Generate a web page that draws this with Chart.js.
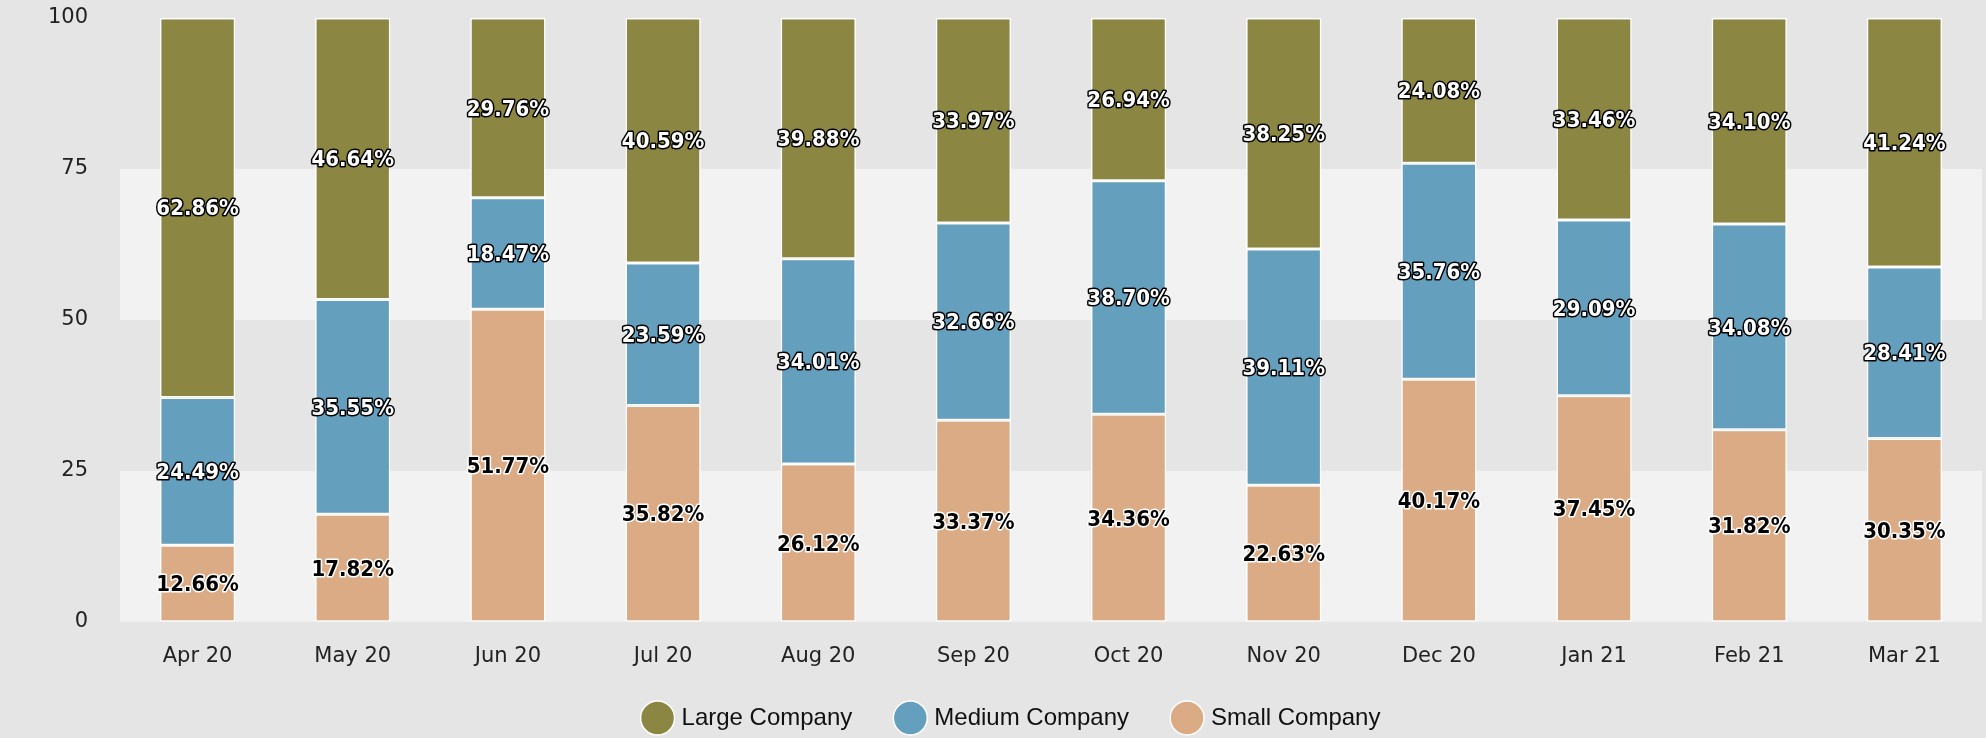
<!DOCTYPE html>
<html>
<head>
<meta charset="utf-8">
<script src="https://cdn.jsdelivr.net/npm/chart.js@4/dist/chart.umd.min.js"></script>
<style>
  html, body { margin: 0; padding: 0; background: #e5e5e5; }
  #wrap { width: 1986px; height: 738px; }
</style>
</head>
<body>
<div id="wrap"><canvas id="grafica" width="1986" height="738"></canvas></div>
<script>
const months = ["Apr 20", "May 20", "Jun 20", "Jul 20", "Aug 20", "Sep 20", "Oct 20", "Nov 20", "Dec 20", "Jan 21", "Feb 21", "Mar 21"];
const large = [62.86, 46.64, 29.76, 40.59, 39.88, 33.97, 26.94, 38.25, 24.08, 33.46, 34.10, 41.24];
const medium = [24.49, 35.55, 18.47, 23.59, 34.01, 32.66, 38.70, 39.11, 35.76, 29.09, 34.08, 28.41];
const small = [12.66, 17.82, 51.77, 35.82, 26.12, 33.37, 34.36, 22.63, 40.17, 37.45, 31.82, 30.35];
const yTicks = [0, 25, 50, 75, 100];
const bands = [[0, 25], [50, 75]];

// light bands behind the bars
const bandPlugin = {
    id: "bands",
    afterLayout(chart) {
        // nudge the legend into the same spot as the original
        chart.legend.left += 22;
        chart.legend.right += 22;
        chart.legend.top -= 9;
        chart.legend.bottom -= 9;
    },
    beforeDraw(chart) {
        const ctx = chart.ctx;
        const area = chart.chartArea;
        const y = chart.scales.y;
        ctx.save();
        ctx.fillStyle = "#e5e5e5";
        ctx.fillRect(0, 0, chart.width, chart.height);
        ctx.fillStyle = "#f2f2f2";
        bands.forEach(b => {
            const top = y.getPixelForValue(b[1]);
            const bottom = y.getPixelForValue(b[0]);
            ctx.fillRect(area.left, top, area.right - area.left, bottom - top);
        });
        ctx.restore();
    }
};

// value labels with outline, centred in each segment
const labelPlugin = {
    id: "segLabels",
    afterDatasetsDraw(chart) {
        const ctx = chart.ctx;
        ctx.save();
        ctx.font = "bold 22px 'DejaVu Sans Condensed', 'DejaVu Sans', sans-serif";
        ctx.textAlign = "center";
        ctx.textBaseline = "middle";
        ctx.lineJoin = "round";
        ctx.lineWidth = 3;
        chart.data.datasets.forEach((ds, i) => {
            const meta = chart.getDatasetMeta(i);
            meta.data.forEach((bar, j) => {
                const p = bar.getProps(["x", "y", "base"], true);
                const txt = ds.data[j].toFixed(2) + "%";
                const cy = (p.y + p.base) / 2 + 2;
                ctx.strokeStyle = ds.labelOutline;
                ctx.fillStyle = ds.labelColor;
                ctx.strokeText(txt, p.x, cy);
                ctx.fillText(txt, p.x, cy);
            });
        });
        ctx.restore();
    }
};

let ctx = document.getElementById("grafica").getContext("2d");
new Chart(ctx, {
    type: "bar",
    data: {
        labels: months,
        datasets: [{
            label: "Small Company",
            data: small,
            backgroundColor: "#daab84",
            labelColor: "#000000",
            labelOutline: "#ffffff"
        }, {
            label: "Medium Company",
            data: medium,
            backgroundColor: "#659fbe",
            labelColor: "#ffffff",
            labelOutline: "#000000"
        }, {
            label: "Large Company",
            data: large,
            backgroundColor: "#8b8641",
            labelColor: "#ffffff",
            labelOutline: "#000000"
        }]
    },
    options: {
        responsive: false,
        animation: false,
        layout: { padding: { top: 18, right: 4, left: 0, bottom: -11 } },
        datasets: {
            bar: {
                borderColor: "#ffffff",
                borderWidth: 1.5,
                borderSkipped: false,
                barPercentage: 0.485,
                categoryPercentage: 1
            }
        },
        plugins: {
            tooltip: { enabled: false },
            legend: {
                position: "bottom",
                reverse: true,
                labels: {
                    usePointStyle: true,
                    pointStyle: "circle",
                    boxWidth: 24,
                    boxHeight: 24,
                    padding: 46,
                    color: "#111",
                    font: { family: "'Liberation Sans', Arial, sans-serif", size: 24 }
                }
            }
        },
        scales: {
            x: {
                stacked: true,
                grid: { display: false, drawTicks: false },
                border: { display: false },
                afterFit(scale) {
                    scale.height -= 22;
                },
                ticks: {
                    padding: 22,
                    color: "#222",
                    font: { family: "'DejaVu Sans', sans-serif", size: 21 }
                }
            },
            y: {
                stacked: true,
                min: 0,
                max: 100,
                afterBuildTicks(scale) {
                    scale.ticks = yTicks.map(v => ({ value: v }));
                },
                afterFit(scale) {
                    scale.width = 120;
                    scale.paddingTop = 0;
                    scale.paddingBottom = 0;
                },
                grid: { display: false, drawTicks: false },
                border: { display: false },
                ticks: {
                    padding: 32,
                    color: "#222",
                    font: { family: "'DejaVu Sans', sans-serif", size: 21 }
                }
            }
        }
    },
    plugins: [bandPlugin, labelPlugin]
});
</script>
</body>
</html>
